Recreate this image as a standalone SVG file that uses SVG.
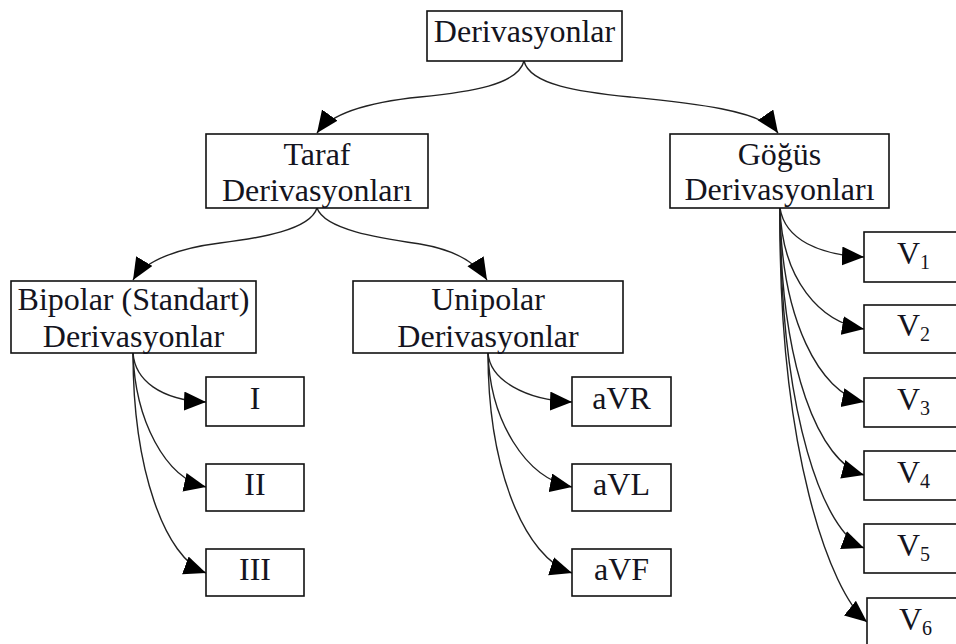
<svg xmlns="http://www.w3.org/2000/svg" width="956" height="644" viewBox="0 0 956 644">
<style>
.box{fill:#fff;stroke:#111;stroke-width:1.6}
.t{font-family:'Liberation Serif','DejaVu Serif',serif;font-size:32px;fill:#141420;text-anchor:middle}
.v{font-family:'Liberation Serif','DejaVu Serif',serif;font-size:32px;fill:#141420}
.sub{font-size:20px}
.e{fill:none;stroke:#222;stroke-width:1.4;marker-end:url(#ah)}
</style>
<defs>
<marker id="ah" markerUnits="userSpaceOnUse" markerWidth="24" markerHeight="20" refX="22" refY="9.5" orient="auto">
<path d="M0,0 L22,9.5 L0,19 z" fill="#000"/>
</marker>
</defs>
<rect width="956" height="644" fill="#fff"/>
<g id="edges">
<path class="e" d="M524,61 C518,85 470,92 420,97 C370,102 332,112 317,133"/>
<path class="e" d="M524,61 C530,85 580,92 630,97 C690,103 762,110 778,133"/>
<path class="e" d="M317,208 C310,230 260,238 220,243 C180,248 145,260 133,280"/>
<path class="e" d="M317,208 C325,230 380,238 420,244 C455,250 476,262 487,280"/>
<path class="e" d="M133,353 C135,380 160,400 206,402"/>
<path class="e" d="M133,353 C135,420 165,478 206,487"/>
<path class="e" d="M133,353 C133,470 165,558 206,573"/>
<path class="e" d="M488,353 C490,380 525,400 572,402"/>
<path class="e" d="M488,353 C490,420 525,478 572,487"/>
<path class="e" d="M488,353 C488,470 525,558 572,573"/>
<path class="e" d="M780,208 C785,240 820,255 864,257"/>
<path class="e" d="M780,208 C782,280 820,322 864,329"/>
<path class="e" d="M780,208 C781,320 820,393 864,402"/>
<path class="e" d="M780,208 C780,370 820,463 864,475"/>
<path class="e" d="M780,208 C780,420 825,533 864,548"/>
<path class="e" d="M780,208 C778,450 830,592 867,622"/>
</g>
<g id="root"><rect class="box" x="427" y="11" width="195" height="50"/><text class="t" x="524.5" y="42">Derivasyonlar</text></g>
<g id="taraf"><rect class="box" x="206" y="134" width="222" height="74"/><text class="t" x="317" y="165">Taraf</text><text class="t" x="317" y="201">Derivasyonları</text></g>
<g id="gogus"><rect class="box" x="670" y="134" width="219" height="74"/><text class="t" x="779.5" y="165">Göğüs</text><text class="t" x="779.5" y="200">Derivasyonları</text></g>
<g id="bipolar"><rect class="box" x="11" y="281" width="245" height="72"/><text class="t" x="133.5" y="310">Bipolar (Standart)</text><text class="t" x="133.5" y="347">Derivasyonlar</text></g>
<g id="unipolar"><rect class="box" x="353" y="281" width="270" height="72"/><text class="t" x="488" y="310">Unipolar</text><text class="t" x="488" y="347">Derivasyonlar</text></g>
<g id="n1"><rect class="box" x="206" y="377" width="98" height="49"/><text class="t" x="255" y="409">I</text></g>
<g id="n2"><rect class="box" x="206" y="464" width="98" height="47"/><text class="t" x="255" y="495">II</text></g>
<g id="n3"><rect class="box" x="206" y="549" width="98" height="47"/><text class="t" x="255" y="580">III</text></g>
<g id="avr"><rect class="box" x="572" y="377" width="99" height="49"/><text class="t" x="621.5" y="409">aVR</text></g>
<g id="avl"><rect class="box" x="572" y="464" width="99" height="47"/><text class="t" x="621.5" y="495">aVL</text></g>
<g id="avf"><rect class="box" x="572" y="549" width="99" height="47"/><text class="t" x="621.5" y="580">aVF</text></g>
<g id="v1"><rect class="box" x="864" y="232" width="110" height="50"/><text class="v" x="897" y="264">V<tspan class="sub" dy="5">1</tspan></text></g>
<g id="v2"><rect class="box" x="864" y="305" width="110" height="48"/><text class="v" x="897" y="336">V<tspan class="sub" dy="5">2</tspan></text></g>
<g id="v3"><rect class="box" x="864" y="378" width="110" height="49"/><text class="v" x="897" y="410">V<tspan class="sub" dy="5">3</tspan></text></g>
<g id="v4"><rect class="box" x="864" y="451" width="110" height="49"/><text class="v" x="897" y="483">V<tspan class="sub" dy="5">4</tspan></text></g>
<g id="v5"><rect class="box" x="864" y="524" width="110" height="49"/><text class="v" x="897" y="556">V<tspan class="sub" dy="5">5</tspan></text></g>
<g id="v6"><rect class="box" x="867" y="598" width="110" height="50"/><text class="v" x="899" y="630">V<tspan class="sub" dy="5">6</tspan></text></g>
</svg>
